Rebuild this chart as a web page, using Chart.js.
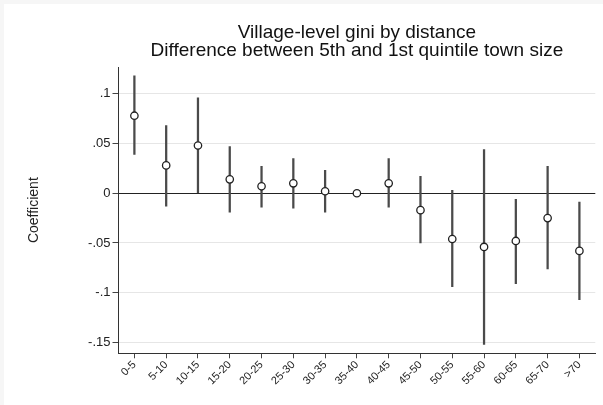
<!DOCTYPE html>
<html>
<head>
<meta charset="utf-8">
<script src="https://cdn.jsdelivr.net/npm/chart.js@4.4.1/dist/chart.umd.min.js"></script>
<style>
  html, body { margin: 0; padding: 0; background: #f6f6f6; }
  #wrap { position: absolute; left: 4px; top: 4px; width: 599px; height: 401px; background: #fff; }
</style>
</head>
<body>
<div id="wrap"><canvas id="gini"></canvas></div>
<script>
const categories = ["0-5", "5-10", "10-15", "15-20", "20-25", "25-30", "30-35", "35-40",
  "40-45", "45-50", "50-55", "55-60", "60-65", "65-70", ">70"];
const coef = [0.078, 0.028, 0.048, 0.014, 0.007, 0.010, 0.002, 0, 0.010, -0.017,
  -0.046, -0.054, -0.048, -0.025, -0.058];
const ciLow = [0.039, -0.013, 0.000, -0.019, -0.014, -0.015, -0.019, null, -0.014, -0.050,
  -0.094, -0.152, -0.091, -0.076, -0.107];
const ciHigh = [0.118, 0.068, 0.096, 0.047, 0.027, 0.035, 0.023, null, 0.035, 0.017,
  0.003, 0.044, -0.006, 0.027, -0.009];
const yTicks = [-0.15, -0.1, -0.05, 0, 0.05, 0.1];
const yTickLabels = ["-.15", "-.1", "-.05", "0", ".05", ".1"];
const titleLines = ["Village-level gini by distance", "Difference between 5th and 1st quintile town size"];

const FONT = "'Liberation Sans', Helvetica, Arial, sans-serif";

// two-line title, centred over the plot region
const titlePlugin = {
  id: "plotTitle",
  afterDraw(chart) {
    const { ctx, chartArea } = chart;
    const cx = (chartArea.left + chartArea.right) / 2;
    ctx.save();
    ctx.fillStyle = "#111";
    ctx.font = "19px " + FONT;
    ctx.textAlign = "center";
    ctx.textBaseline = "alphabetic";
    ctx.fillText(titleLines[0], cx, 33.5);
    ctx.fillText(titleLines[1], cx, 51.5);
    ctx.restore();
  }
};

new Chart(document.getElementById("gini"), {
  type: "bar",
  data: {
    labels: categories,
    datasets: [
      {
        type: "line",
        data: coef,
        showLine: false,
        pointStyle: "circle",
        pointRadius: 3.7,
        pointBorderWidth: 1.3,
        pointBorderColor: "#222",
        pointBackgroundColor: "#fff",
        order: 0
      },
      {
        type: "bar",
        data: ciLow.map((lo, i) => (lo === null ? null : [lo, ciHigh[i]])),
        backgroundColor: "#4a4a4a",
        barThickness: 1.6,
        order: 1
      }
    ]
  },
  plugins: [titlePlugin],
  options: {
    responsive: true,
    maintainAspectRatio: false,
    animation: false,
    layout: { padding: { top: 63, right: 7.7, left: 0, bottom: 0 } },
    plugins: {
      legend: { display: false },
      tooltip: { enabled: false }
    },
    scales: {
      x: {
        offset: true,
        afterFit(axis) { axis.height = 51.7; },
        border: { color: "#333", width: 1 },
        grid: {
          drawOnChartArea: false,
          drawTicks: true,
          tickLength: 5,
          tickColor: "#444",
          offset: false
        },
        ticks: {
          autoSkip: false,
          minRotation: 45,
          maxRotation: 45,
          padding: 0,
          color: "#222",
          font: { family: FONT, size: 11 }
        }
      },
      y: {
        min: -0.161,
        max: 0.127,
        afterFit(axis) { axis.width = 114.5; },
        afterBuildTicks(axis) { axis.ticks = yTicks.map(v => ({ value: v })); },
        border: { color: "#333", width: 1 },
        grid: {
          color: ctx => (ctx.tick && ctx.tick.value === 0 ? "#222" : "#e6e6e6"),
          lineWidth: 1,
          tickLength: 6,
          tickColor: "#444"
        },
        ticks: {
          padding: 2,
          color: "#222",
          font: { family: FONT, size: 13 },
          callback: (value, index) => yTickLabels[index]
        },
        title: {
          display: true,
          text: "Coefficient",
          color: "#222",
          font: { family: FONT, size: 14 },
          padding: { top: 22, bottom: 0 }
        }
      }
    }
  }
});
</script>
</body>
</html>
